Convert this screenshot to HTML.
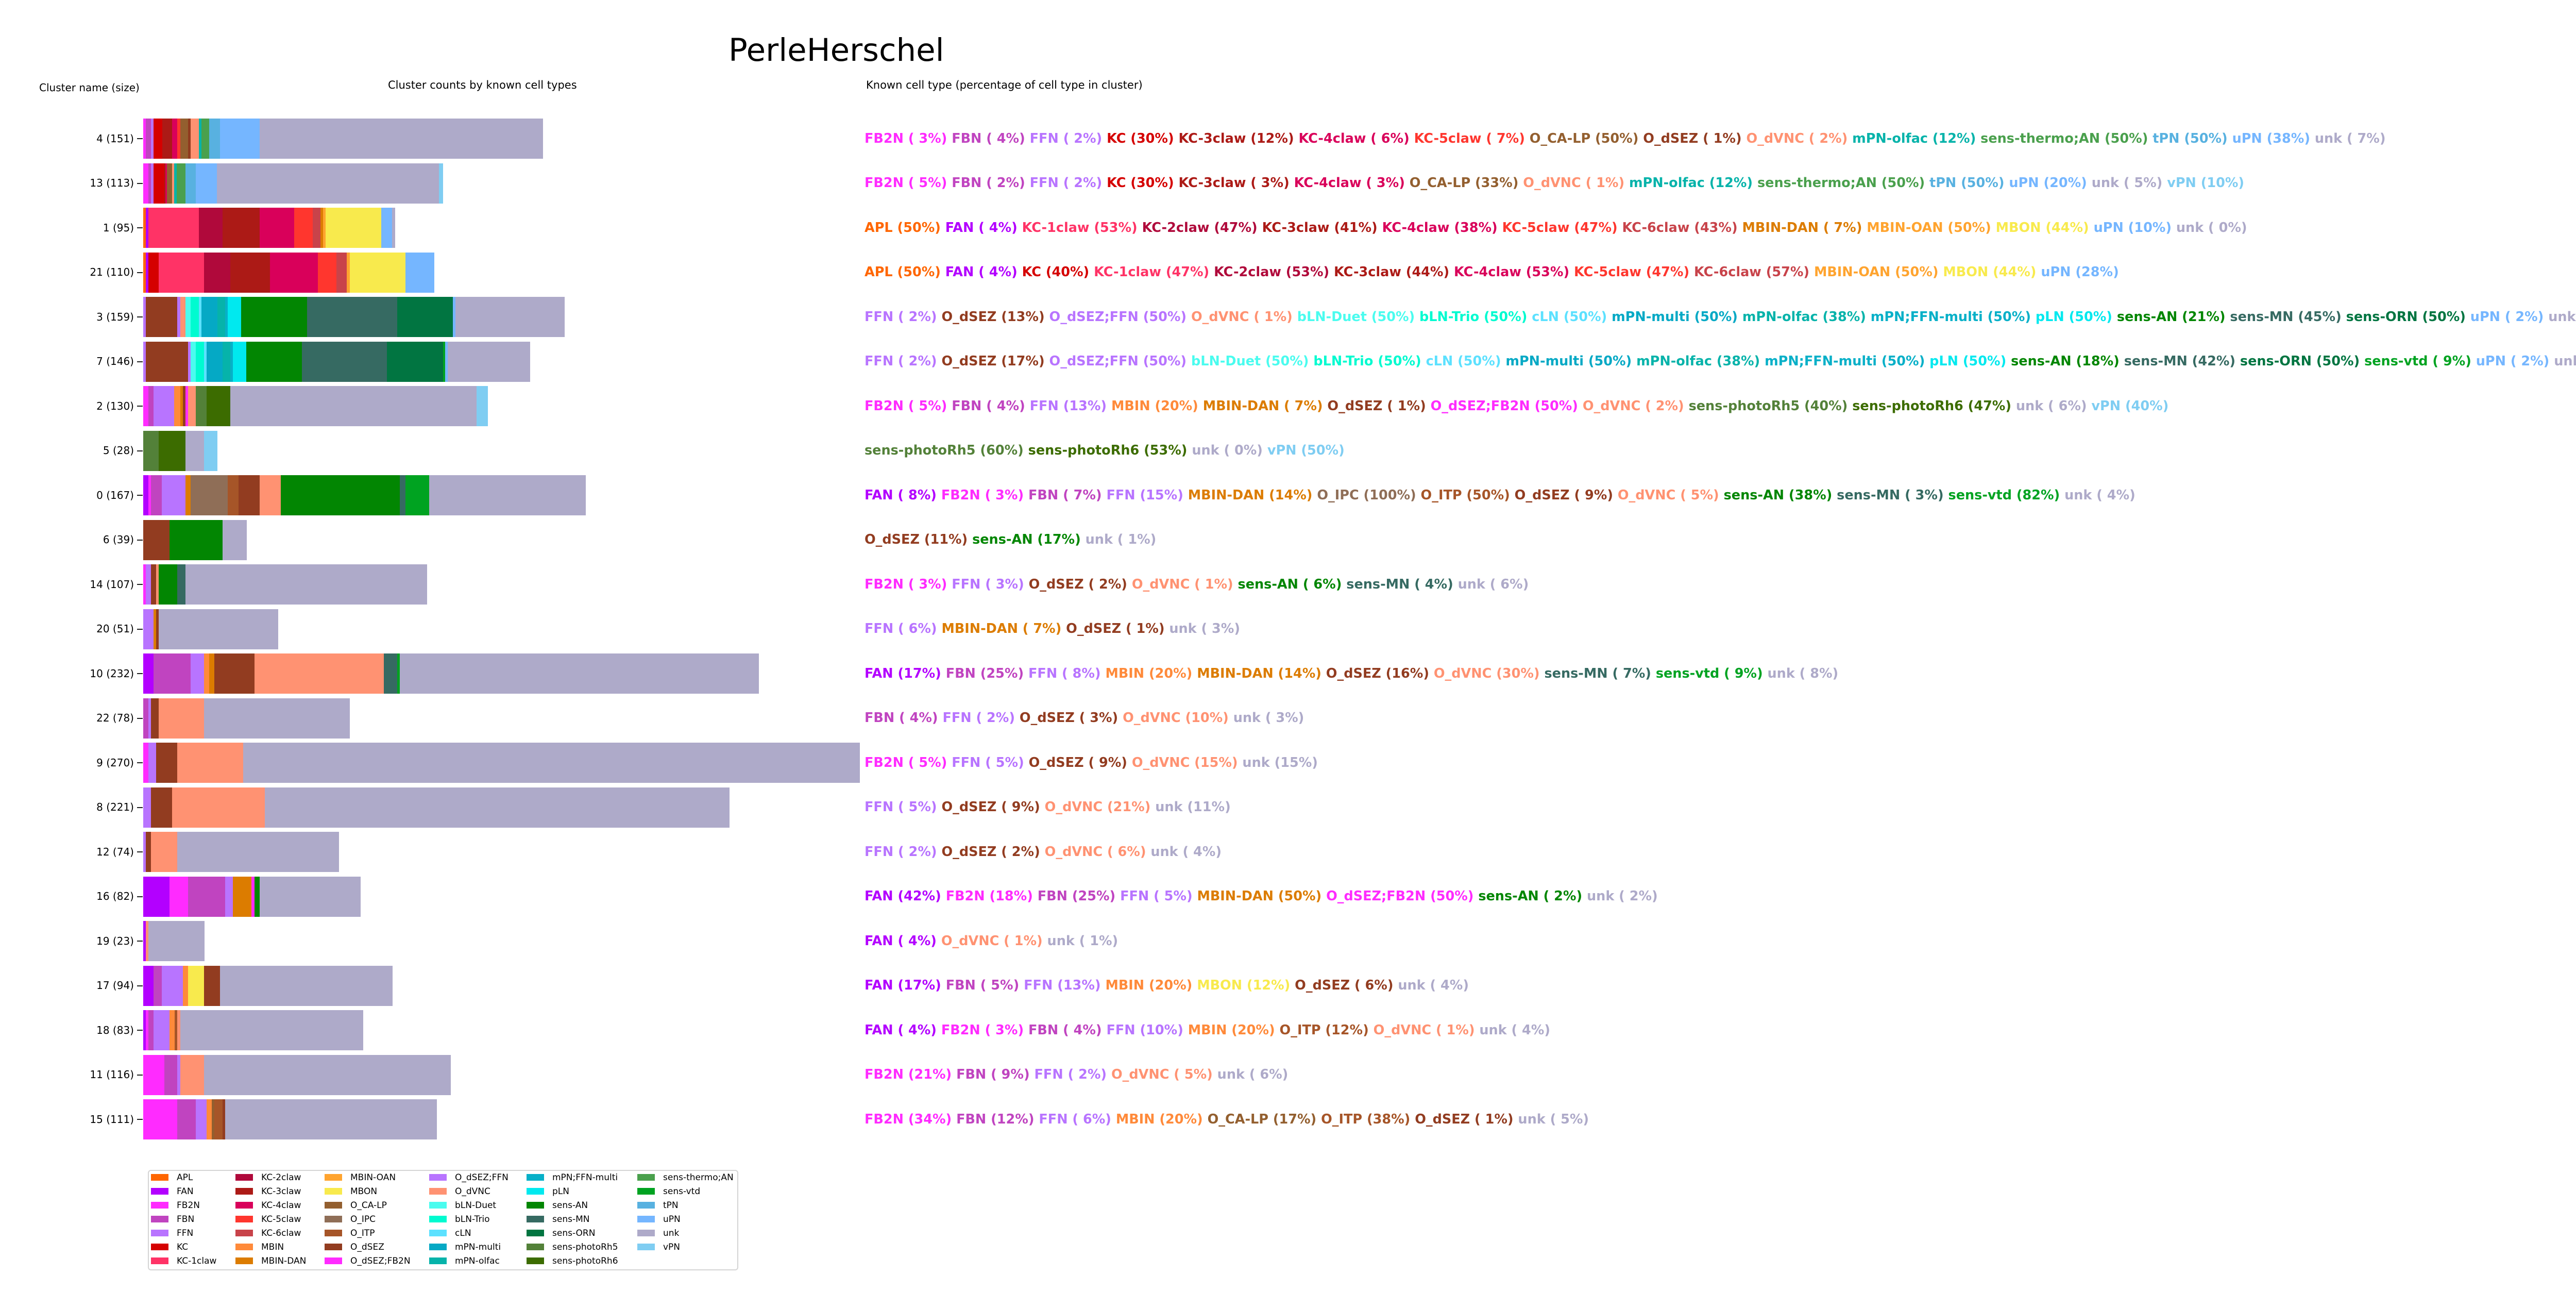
<!DOCTYPE html>
<html><head><meta charset="utf-8">
<style>
html,body{margin:0;padding:0;background:#fff;}
body{width:5177px;height:2538px;position:relative;overflow:hidden;font-family:"DejaVu Sans","Liberation Sans",sans-serif;color:#000;}
.a{position:absolute;white-space:nowrap;}
.hdr{font-size:21px;}
.lbl{font-size:20px;text-align:right;width:240px;left:20px;line-height:30px;}
.tick{position:absolute;left:266px;width:11px;height:2px;background:#222;}
.row{position:absolute;left:1678px;font-size:25.5px;font-weight:bold;line-height:32px;white-space:nowrap;}
.row span{color:var(--c);}
.b{position:absolute;height:78px;background:var(--c);}
.leg{position:absolute;left:287px;top:2270px;width:1142px;height:191px;border:2px solid #d4d4d4;border-radius:6px;}
.li{position:absolute;font-size:17px;line-height:20px;white-space:nowrap;}
.li i{position:absolute;left:0;top:3px;width:34px;height:13px;background:var(--c);}
.li b{font-weight:normal;position:absolute;left:50px;top:0;}
.apl{--c:#ff6600}.fan{--c:#b300ff}.fb2n{--c:#ff2bff}.fbn{--c:#c044c0}.ffn{--c:#b874ff}.kc{--c:#d50000}
.k1{--c:#ff3366}.k2{--c:#b0093b}.k3{--c:#ac1a16}.k4{--c:#d9005a}.k5{--c:#ff362e}.k6{--c:#c8434a}
.mbin{--c:#ff8a3a}.dan{--c:#dc7c00}.oan{--c:#ffa42f}.mbon{--c:#f8ea4d}.ca{--c:#935f2f}.ipc{--c:#8f6e57}
.itp{--c:#a65528}.sez{--c:#923c20}.sezf{--c:#ff2bff}.sezffn{--c:#b874ff}.vnc{--c:#ff9272}
.duet{--c:#4afcef}.trio{--c:#00fbd0}.cln{--c:#5ce1ff}.mm{--c:#05a9c5}.mo{--c:#06b3aa}.mpf{--c:#07b0c8}
.pln{--c:#00e9ef}.an{--c:#028602}.mn{--c:#366a62}.orn{--c:#017541}.r5{--c:#538139}.r6{--c:#3c6c00}
.th{--c:#4aa04d}.vtd{--c:#00a321}.tpn{--c:#58b1e0}.upn{--c:#75b6ff}.unk{--c:#aeaac9}.vpn{--c:#7fcdf2}
</style></head><body>

<div class="a" style="left:1414px;top:60px;font-size:61px;line-height:76px;">PerleHerschel</div>
<div class="a hdr" style="left:76px;top:158px;font-size:20px;">Cluster name (size)</div>
<div class="a hdr" style="left:753px;top:153px;">Cluster counts by known cell types</div>
<div class="a hdr" style="left:1681px;top:153px;">Known cell type (percentage of cell type in cluster)</div>

<div id="bars"></div>

<div class="a lbl" style="top:254px">4 (151)</div>
<div class="a lbl" style="top:340px">13 (113)</div>
<div class="a lbl" style="top:427px">1 (95)</div>
<div class="a lbl" style="top:513px">21 (110)</div>
<div class="a lbl" style="top:600px">3 (159)</div>
<div class="a lbl" style="top:686px">7 (146)</div>
<div class="a lbl" style="top:773px">2 (130)</div>
<div class="a lbl" style="top:859px">5 (28)</div>
<div class="a lbl" style="top:946px">0 (167)</div>
<div class="a lbl" style="top:1032px">6 (39)</div>
<div class="a lbl" style="top:1119px">14 (107)</div>
<div class="a lbl" style="top:1205px">20 (51)</div>
<div class="a lbl" style="top:1292px">10 (232)</div>
<div class="a lbl" style="top:1378px">22 (78)</div>
<div class="a lbl" style="top:1465px">9 (270)</div>
<div class="a lbl" style="top:1551px">8 (221)</div>
<div class="a lbl" style="top:1638px">12 (74)</div>
<div class="a lbl" style="top:1724px">16 (82)</div>
<div class="a lbl" style="top:1811px">19 (23)</div>
<div class="a lbl" style="top:1897px">17 (94)</div>
<div class="a lbl" style="top:1984px">18 (83)</div>
<div class="a lbl" style="top:2070px">11 (116)</div>
<div class="a lbl" style="top:2157px">15 (111)</div>

<div class="row" style="top:253px"><span class="fb2n">FB2N ( 3%)</span> <span class="fbn">FBN ( 4%)</span> <span class="ffn">FFN ( 2%)</span> <span class="kc">KC (30%)</span> <span class="k3">KC-3claw (12%)</span> <span class="k4">KC-4claw ( 6%)</span> <span class="k5">KC-5claw ( 7%)</span> <span class="ca">O_CA-LP (50%)</span> <span class="sez">O_dSEZ ( 1%)</span> <span class="vnc">O_dVNC ( 2%)</span> <span class="mo">mPN-olfac (12%)</span> <span class="th">sens-thermo;AN (50%)</span> <span class="tpn">tPN (50%)</span> <span class="upn">uPN (38%)</span> <span class="unk">unk ( 7%)</span></div>
<div class="row" style="top:339px"><span class="fb2n">FB2N ( 5%)</span> <span class="fbn">FBN ( 2%)</span> <span class="ffn">FFN ( 2%)</span> <span class="kc">KC (30%)</span> <span class="k3">KC-3claw ( 3%)</span> <span class="k4">KC-4claw ( 3%)</span> <span class="ca">O_CA-LP (33%)</span> <span class="vnc">O_dVNC ( 1%)</span> <span class="mo">mPN-olfac (12%)</span> <span class="th">sens-thermo;AN (50%)</span> <span class="tpn">tPN (50%)</span> <span class="upn">uPN (20%)</span> <span class="unk">unk ( 5%)</span> <span class="vpn">vPN (10%)</span></div>
<div class="row" style="top:426px"><span class="apl">APL (50%)</span> <span class="fan">FAN ( 4%)</span> <span class="k1">KC-1claw (53%)</span> <span class="k2">KC-2claw (47%)</span> <span class="k3">KC-3claw (41%)</span> <span class="k4">KC-4claw (38%)</span> <span class="k5">KC-5claw (47%)</span> <span class="k6">KC-6claw (43%)</span> <span class="dan">MBIN-DAN ( 7%)</span> <span class="oan">MBIN-OAN (50%)</span> <span class="mbon">MBON (44%)</span> <span class="upn">uPN (10%)</span> <span class="unk">unk ( 0%)</span></div>
<div class="row" style="top:512px"><span class="apl">APL (50%)</span> <span class="fan">FAN ( 4%)</span> <span class="kc">KC (40%)</span> <span class="k1">KC-1claw (47%)</span> <span class="k2">KC-2claw (53%)</span> <span class="k3">KC-3claw (44%)</span> <span class="k4">KC-4claw (53%)</span> <span class="k5">KC-5claw (47%)</span> <span class="k6">KC-6claw (57%)</span> <span class="oan">MBIN-OAN (50%)</span> <span class="mbon">MBON (44%)</span> <span class="upn">uPN (28%)</span></div>
<div class="row" style="top:599px"><span class="ffn">FFN ( 2%)</span> <span class="sez">O_dSEZ (13%)</span> <span class="sezffn">O_dSEZ;FFN (50%)</span> <span class="vnc">O_dVNC ( 1%)</span> <span class="duet">bLN-Duet (50%)</span> <span class="trio">bLN-Trio (50%)</span> <span class="cln">cLN (50%)</span> <span class="mm">mPN-multi (50%)</span> <span class="mo">mPN-olfac (38%)</span> <span class="mpf">mPN;FFN-multi (50%)</span> <span class="pln">pLN (50%)</span> <span class="an">sens-AN (21%)</span> <span class="mn">sens-MN (45%)</span> <span class="orn">sens-ORN (50%)</span> <span class="upn">uPN ( 2%)</span> <span class="unk">unk ( 3%)</span></div>
<div class="row" style="top:685px"><span class="ffn">FFN ( 2%)</span> <span class="sez">O_dSEZ (17%)</span> <span class="sezffn">O_dSEZ;FFN (50%)</span> <span class="duet">bLN-Duet (50%)</span> <span class="trio">bLN-Trio (50%)</span> <span class="cln">cLN (50%)</span> <span class="mm">mPN-multi (50%)</span> <span class="mo">mPN-olfac (38%)</span> <span class="mpf">mPN;FFN-multi (50%)</span> <span class="pln">pLN (50%)</span> <span class="an">sens-AN (18%)</span> <span class="mn">sens-MN (42%)</span> <span class="orn">sens-ORN (50%)</span> <span class="vtd">sens-vtd ( 9%)</span> <span class="upn">uPN ( 2%)</span> <span class="unk">unk ( 2%)</span></div>
<div class="row" style="top:772px"><span class="fb2n">FB2N ( 5%)</span> <span class="fbn">FBN ( 4%)</span> <span class="ffn">FFN (13%)</span> <span class="mbin">MBIN (20%)</span> <span class="dan">MBIN-DAN ( 7%)</span> <span class="sez">O_dSEZ ( 1%)</span> <span class="sezf">O_dSEZ;FB2N (50%)</span> <span class="vnc">O_dVNC ( 2%)</span> <span class="r5">sens-photoRh5 (40%)</span> <span class="r6">sens-photoRh6 (47%)</span> <span class="unk">unk ( 6%)</span> <span class="vpn">vPN (40%)</span></div>
<div class="row" style="top:858px"><span class="r5">sens-photoRh5 (60%)</span> <span class="r6">sens-photoRh6 (53%)</span> <span class="unk">unk ( 0%)</span> <span class="vpn">vPN (50%)</span></div>
<div class="row" style="top:945px"><span class="fan">FAN ( 8%)</span> <span class="fb2n">FB2N ( 3%)</span> <span class="fbn">FBN ( 7%)</span> <span class="ffn">FFN (15%)</span> <span class="dan">MBIN-DAN (14%)</span> <span class="ipc">O_IPC (100%)</span> <span class="itp">O_ITP (50%)</span> <span class="sez">O_dSEZ ( 9%)</span> <span class="vnc">O_dVNC ( 5%)</span> <span class="an">sens-AN (38%)</span> <span class="mn">sens-MN ( 3%)</span> <span class="vtd">sens-vtd (82%)</span> <span class="unk">unk ( 4%)</span></div>
<div class="row" style="top:1031px"><span class="sez">O_dSEZ (11%)</span> <span class="an">sens-AN (17%)</span> <span class="unk">unk ( 1%)</span></div>
<div class="row" style="top:1118px"><span class="fb2n">FB2N ( 3%)</span> <span class="ffn">FFN ( 3%)</span> <span class="sez">O_dSEZ ( 2%)</span> <span class="vnc">O_dVNC ( 1%)</span> <span class="an">sens-AN ( 6%)</span> <span class="mn">sens-MN ( 4%)</span> <span class="unk">unk ( 6%)</span></div>
<div class="row" style="top:1204px"><span class="ffn">FFN ( 6%)</span> <span class="dan">MBIN-DAN ( 7%)</span> <span class="sez">O_dSEZ ( 1%)</span> <span class="unk">unk ( 3%)</span></div>
<div class="row" style="top:1291px"><span class="fan">FAN (17%)</span> <span class="fbn">FBN (25%)</span> <span class="ffn">FFN ( 8%)</span> <span class="mbin">MBIN (20%)</span> <span class="dan">MBIN-DAN (14%)</span> <span class="sez">O_dSEZ (16%)</span> <span class="vnc">O_dVNC (30%)</span> <span class="mn">sens-MN ( 7%)</span> <span class="vtd">sens-vtd ( 9%)</span> <span class="unk">unk ( 8%)</span></div>
<div class="row" style="top:1377px"><span class="fbn">FBN ( 4%)</span> <span class="ffn">FFN ( 2%)</span> <span class="sez">O_dSEZ ( 3%)</span> <span class="vnc">O_dVNC (10%)</span> <span class="unk">unk ( 3%)</span></div>
<div class="row" style="top:1464px"><span class="fb2n">FB2N ( 5%)</span> <span class="ffn">FFN ( 5%)</span> <span class="sez">O_dSEZ ( 9%)</span> <span class="vnc">O_dVNC (15%)</span> <span class="unk">unk (15%)</span></div>
<div class="row" style="top:1550px"><span class="ffn">FFN ( 5%)</span> <span class="sez">O_dSEZ ( 9%)</span> <span class="vnc">O_dVNC (21%)</span> <span class="unk">unk (11%)</span></div>
<div class="row" style="top:1637px"><span class="ffn">FFN ( 2%)</span> <span class="sez">O_dSEZ ( 2%)</span> <span class="vnc">O_dVNC ( 6%)</span> <span class="unk">unk ( 4%)</span></div>
<div class="row" style="top:1723px"><span class="fan">FAN (42%)</span> <span class="fb2n">FB2N (18%)</span> <span class="fbn">FBN (25%)</span> <span class="ffn">FFN ( 5%)</span> <span class="dan">MBIN-DAN (50%)</span> <span class="sezf">O_dSEZ;FB2N (50%)</span> <span class="an">sens-AN ( 2%)</span> <span class="unk">unk ( 2%)</span></div>
<div class="row" style="top:1810px"><span class="fan">FAN ( 4%)</span> <span class="vnc">O_dVNC ( 1%)</span> <span class="unk">unk ( 1%)</span></div>
<div class="row" style="top:1896px"><span class="fan">FAN (17%)</span> <span class="fbn">FBN ( 5%)</span> <span class="ffn">FFN (13%)</span> <span class="mbin">MBIN (20%)</span> <span class="mbon">MBON (12%)</span> <span class="sez">O_dSEZ ( 6%)</span> <span class="unk">unk ( 4%)</span></div>
<div class="row" style="top:1983px"><span class="fan">FAN ( 4%)</span> <span class="fb2n">FB2N ( 3%)</span> <span class="fbn">FBN ( 4%)</span> <span class="ffn">FFN (10%)</span> <span class="mbin">MBIN (20%)</span> <span class="itp">O_ITP (12%)</span> <span class="vnc">O_dVNC ( 1%)</span> <span class="unk">unk ( 4%)</span></div>
<div class="row" style="top:2069px"><span class="fb2n">FB2N (21%)</span> <span class="fbn">FBN ( 9%)</span> <span class="ffn">FFN ( 2%)</span> <span class="vnc">O_dVNC ( 5%)</span> <span class="unk">unk ( 6%)</span></div>
<div class="row" style="top:2156px"><span class="fb2n">FB2N (34%)</span> <span class="fbn">FBN (12%)</span> <span class="ffn">FFN ( 6%)</span> <span class="mbin">MBIN (20%)</span> <span class="ca">O_CA-LP (17%)</span> <span class="itp">O_ITP (38%)</span> <span class="sez">O_dSEZ ( 1%)</span> <span class="unk">unk ( 5%)</span></div>

<div class="leg"></div>
<div class="li apl" style="left:293px;top:2275px"><i></i><b>APL</b></div>
<div class="li fan" style="left:293px;top:2302px"><i></i><b>FAN</b></div>
<div class="li fb2n" style="left:293px;top:2329px"><i></i><b>FB2N</b></div>
<div class="li fbn" style="left:293px;top:2356px"><i></i><b>FBN</b></div>
<div class="li ffn" style="left:293px;top:2383px"><i></i><b>FFN</b></div>
<div class="li kc" style="left:293px;top:2410px"><i></i><b>KC</b></div>
<div class="li k1" style="left:293px;top:2437px"><i></i><b>KC-1claw</b></div>
<div class="li k2" style="left:457px;top:2275px"><i></i><b>KC-2claw</b></div>
<div class="li k3" style="left:457px;top:2302px"><i></i><b>KC-3claw</b></div>
<div class="li k4" style="left:457px;top:2329px"><i></i><b>KC-4claw</b></div>
<div class="li k5" style="left:457px;top:2356px"><i></i><b>KC-5claw</b></div>
<div class="li k6" style="left:457px;top:2383px"><i></i><b>KC-6claw</b></div>
<div class="li mbin" style="left:457px;top:2410px"><i></i><b>MBIN</b></div>
<div class="li dan" style="left:457px;top:2437px"><i></i><b>MBIN-DAN</b></div>
<div class="li oan" style="left:630px;top:2275px"><i></i><b>MBIN-OAN</b></div>
<div class="li mbon" style="left:630px;top:2302px"><i></i><b>MBON</b></div>
<div class="li ca" style="left:630px;top:2329px"><i></i><b>O_CA-LP</b></div>
<div class="li ipc" style="left:630px;top:2356px"><i></i><b>O_IPC</b></div>
<div class="li itp" style="left:630px;top:2383px"><i></i><b>O_ITP</b></div>
<div class="li sez" style="left:630px;top:2410px"><i></i><b>O_dSEZ</b></div>
<div class="li sezf" style="left:630px;top:2437px"><i></i><b>O_dSEZ;FB2N</b></div>
<div class="li sezffn" style="left:833px;top:2275px"><i></i><b>O_dSEZ;FFN</b></div>
<div class="li vnc" style="left:833px;top:2302px"><i></i><b>O_dVNC</b></div>
<div class="li duet" style="left:833px;top:2329px"><i></i><b>bLN-Duet</b></div>
<div class="li trio" style="left:833px;top:2356px"><i></i><b>bLN-Trio</b></div>
<div class="li cln" style="left:833px;top:2383px"><i></i><b>cLN</b></div>
<div class="li mm" style="left:833px;top:2410px"><i></i><b>mPN-multi</b></div>
<div class="li mo" style="left:833px;top:2437px"><i></i><b>mPN-olfac</b></div>
<div class="li mpf" style="left:1022px;top:2275px"><i></i><b>mPN;FFN-multi</b></div>
<div class="li pln" style="left:1022px;top:2302px"><i></i><b>pLN</b></div>
<div class="li an" style="left:1022px;top:2329px"><i></i><b>sens-AN</b></div>
<div class="li mn" style="left:1022px;top:2356px"><i></i><b>sens-MN</b></div>
<div class="li orn" style="left:1022px;top:2383px"><i></i><b>sens-ORN</b></div>
<div class="li r5" style="left:1022px;top:2410px"><i></i><b>sens-photoRh5</b></div>
<div class="li r6" style="left:1022px;top:2437px"><i></i><b>sens-photoRh6</b></div>
<div class="li th" style="left:1237px;top:2275px"><i></i><b>sens-thermo;AN</b></div>
<div class="li vtd" style="left:1237px;top:2302px"><i></i><b>sens-vtd</b></div>
<div class="li tpn" style="left:1237px;top:2329px"><i></i><b>tPN</b></div>
<div class="li upn" style="left:1237px;top:2356px"><i></i><b>uPN</b></div>
<div class="li unk" style="left:1237px;top:2383px"><i></i><b>unk</b></div>
<div class="li vpn" style="left:1237px;top:2410px"><i></i><b>vPN</b></div>

<script>
(function(){
var R=[
[["fb2n",20],["fbn",36],["ffn",44],["kc",70],["k3",100],["k4",116],["k5",125],["ca",149],["sez",157],["vnc",182],["mo",190],["th",213],["tpn",246],["upn",367],["unk",1229]],
[["fb2n",28],["fbn",36],["ffn",44],["kc",77],["k3",80],["k4",85],["ca",100],["vnc",107],["mo",115],["th",141],["tpn",172],["upn",237],["unk",913],["vpn",924]],
[["apl",20],["fan",28],["k1",182],["k2",254],["k3",367],["k4",472],["k5",528],["k6",552],["dan",560],["oan",568],["mbon",737],["upn",770],["unk",778]],
[["apl",20],["fan",28],["kc",60],["k1",198],["k2",278],["k3",398],["k4",544],["k5",601],["k6",632],["oan",641],["mbon",811],["upn",898]],
[["ffn",20],["sez",116],["sezffn",125],["vnc",141],["duet",157],["trio",182],["cln",190],["mm",238],["mo",262],["mpf",270],["pln",310],["an",511],["mn",786],["orn",955],["upn",963],["unk",1294]],
[["ffn",20],["sez",149],["sezffn",157],["duet",172],["trio",198],["cln",205],["mm",254],["mo",278],["mpf",285],["pln",326],["an",495],["mn",754],["orn",925],["vtd",931],["upn",939],["unk",1189]],
[["fb2n",28],["fbn",44],["ffn",107],["mbin",125],["dan",133],["sez",141],["sezf",149],["vnc",172],["r5",205],["r6",278],["unk",1027],["vpn",1060]],
[["r5",60],["r6",141],["unk",198],["vpn",238]],
[["fan",28],["fb2n",36],["fbn",69],["ffn",141],["dan",157],["ipc",270],["itp",303],["sez",367],["vnc",431],["an",793],["mn",811],["vtd",883],["unk",1358]],
[["sez",93],["an",254],["unk",326]],
[["fb2n",20],["ffn",36],["sez",52],["vnc",60],["an",116],["mn",141],["unk",875]],
[["ffn",44],["dan",52],["sez",60],["unk",423]],
[["fan",44],["fbn",157],["ffn",198],["mbin",213],["dan",229],["sez",351],["vnc",745],["mn",786],["vtd",793],["unk",-232]],
[["fbn",28],["ffn",36],["sez",60],["vnc",198],["unk",641]],
[["fb2n",28],["ffn",52],["sez",116],["vnc",317],["unk",-270]],
[["ffn",36],["sez",100],["vnc",383],["unk",-221]],
[["ffn",20],["sez",36],["vnc",116],["unk",608]],
[["fan",93],["fb2n",149],["fbn",262],["ffn",286],["dan",342],["sezf",351],["an",367],["unk",673]],
[["fan",20],["vnc",28],["unk",198]],
[["fan",44],["fbn",69],["ffn",133],["mbin",149],["mbon",198],["sez",246],["unk",770]],
[["fan",20],["fb2n",28],["fbn",44],["ffn",93],["mbin",108],["itp",116],["vnc",125],["unk",681]],
[["fb2n",77],["fbn",116],["ffn",125],["vnc",198],["unk",947]],
[["fb2n",116],["fbn",172],["ffn",205],["mbin",221],["ca",229],["itp",254],["sez",262],["unk",906]]
];
function X(z){return z<0?277.5+(-z)*5.15:270+z/1.568;}
var h="";
for(var i=0;i<R.length;i++){
 var cy=269+86.5*i, ty=Math.round(cy-39), x0=X(13);
 h+='<div class="tick" style="top:'+Math.round(cy-1)+'px"></div>';
 for(var j=0;j<R[i].length;j++){
  var x1=X(R[i][j][1]);
  h+='<div class="b '+R[i][j][0]+'" style="left:'+x0.toFixed(1)+'px;width:'+(x1-x0+0.6).toFixed(1)+'px;top:'+ty+'px"></div>';
  x0=x1;
 }
}
document.getElementById("bars").innerHTML=h;
})();
</script>
</body></html>
